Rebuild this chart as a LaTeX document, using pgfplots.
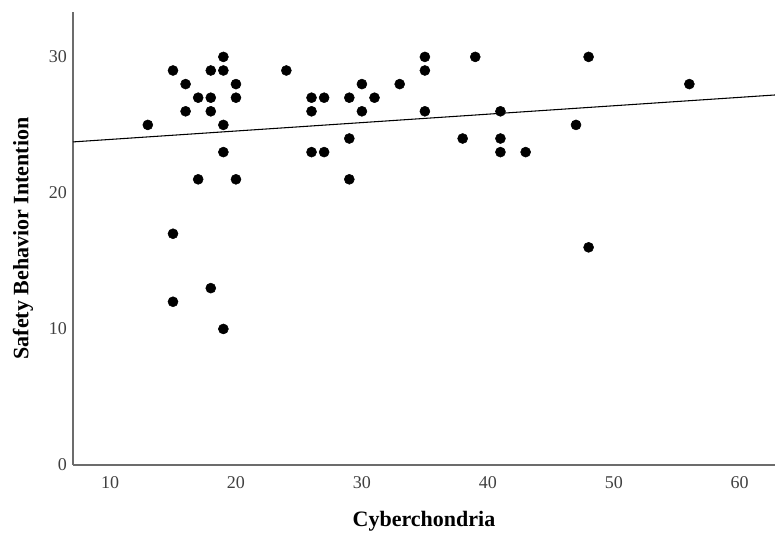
\documentclass[border=0pt]{standalone}
\usepackage{fontspec}
\setmainfont{Liberation Serif}
\usepackage{pgfplots}
\pgfplotsset{compat=1.18}

\begin{document}
\begin{tikzpicture}
\begin{axis}[
  name=ax,
  scale only axis,
  width=526.5pt, height=339.75pt,
  xmin=7.06, xmax=62.8,
  ymin=0, ymax=33.3,
  xtick={10,20,...,60},
  ytick={0,10,20,30},
  axis x line*=bottom, axis y line*=left,
  axis line style={draw=gray!85!black, line width=0.9pt},
  major tick length=0pt,
  /pgf/number format/assume math mode=true,
  tick label style={font=\fontsize{13.5}{15}\selectfont, text=black!75},
  xticklabel style={yshift=-5pt},
  yticklabel style={xshift=-1pt},
  xlabel={Cyberchondria},
  ylabel={Safety Behavior Intention},
  label style={font=\fontsize{16.5}{18}\selectfont\bfseries},
  xlabel style={at={(axis description cs:0.5,0)}, anchor=center, yshift=-42pt},
  ylabel style={at={(axis description cs:0,0.5)}, anchor=center, yshift=37.5pt},
]
\addplot[only marks, mark=*, mark size=3.75pt, black] coordinates {
  (13,25)
  (15,29) (15,17) (15,12)
  (16,28) (16,26)
  (17,27) (17,21)
  (18,29) (18,27) (18,26) (18,13)
  (19,30) (19,29) (19,25) (19,23) (19,10)
  (20,28) (20,27) (20,21)
  (24,29)
  (26,27) (26,26) (26,23)
  (27,27) (27,23)
  (29,27) (29,24) (29,21)
  (30,28) (30,26)
  (31,27)
  (33,28)
  (35,30) (35,29) (35,26)
  (38,24)
  (39,30)
  (41,26) (41,24) (41,23)
  (43,23)
  (47,25)
  (48,30) (48,16)
  (56,28)
};
\addplot[black, line width=0.8pt] coordinates {(7.06,23.75) (62.8,27.2)};
\end{axis}
\pgfresetboundingbox
\path[use as bounding box] ([xshift=-54.75pt,yshift=-54.75pt]ax.south west) rectangle ([yshift=9pt]ax.north east);
\end{tikzpicture}
\end{document}
